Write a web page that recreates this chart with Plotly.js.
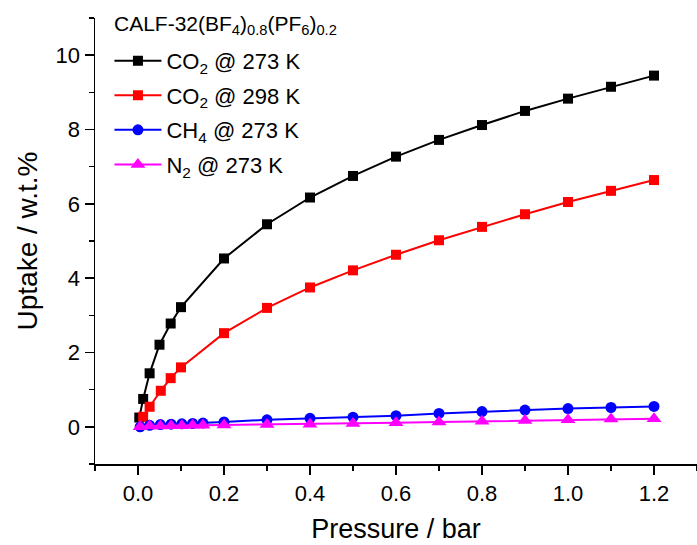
<!DOCTYPE html>
<html>
<head>
<meta charset="utf-8">
<script src="https://cdn.plot.ly/plotly-3.0.1.min.js"></script>
<style>html,body{margin:0;padding:0;background:#fff;}#chart{width:697px;height:545px;}</style>
</head>
<body>
<div id="chart"></div>
<script>
// Data
const co2_273_x = [0.003, 0.012, 0.027, 0.05, 0.076, 0.1, 0.2, 0.3, 0.4, 0.5, 0.6, 0.7, 0.8, 0.9, 1.0, 1.1, 1.2];
const co2_273_y = [0.25, 0.75, 1.44, 2.21, 2.78, 3.22, 4.53, 5.45, 6.17, 6.75, 7.27, 7.72, 8.12, 8.5, 8.83, 9.15, 9.45];
const co2_298_x = [0.012, 0.027, 0.053, 0.076, 0.1, 0.2, 0.3, 0.4, 0.5, 0.6, 0.7, 0.8, 0.9, 1.0, 1.1, 1.2];
const co2_298_y = [0.27, 0.54, 0.97, 1.31, 1.6, 2.52, 3.2, 3.75, 4.21, 4.63, 5.02, 5.38, 5.72, 6.05, 6.35, 6.64];
const gas_x = [0.005, 0.027, 0.052, 0.077, 0.102, 0.127, 0.151, 0.2, 0.3, 0.4, 0.5, 0.6, 0.7, 0.8, 0.9, 1.0, 1.1, 1.2];
const ch4_273_y = [0.0, 0.04, 0.06, 0.07, 0.08, 0.09, 0.1, 0.13, 0.19, 0.23, 0.26, 0.3, 0.36, 0.41, 0.45, 0.49, 0.52, 0.55];
const n2_273_y = [0.0, 0.02, 0.02, 0.03, 0.03, 0.04, 0.04, 0.05, 0.06, 0.07, 0.09, 0.11, 0.13, 0.15, 0.17, 0.19, 0.21, 0.22];
const seriesNames = ['CO<sub>2</sub> @ 273 K', 'CO<sub>2</sub> @ 298 K', 'CH<sub>4</sub> @ 273 K', 'N<sub>2</sub> @ 273 K'];
const legendTitle = 'CALF-32(BF<sub>4</sub>)<sub>0.8</sub>(PF<sub>6</sub>)<sub>0.2</sub>';
const xTickVals = [0, 0.2, 0.4, 0.6, 0.8, 1.0, 1.2];
const xTickText = ['0.0', '0.2', '0.4', '0.6', '0.8', '1.0', '1.2'];
const yTickVals = [0, 2, 4, 6, 8, 10];

const FONT = 'Liberation Sans, Arial, Helvetica, sans-serif';

function tr(x, y, name, color, symbol, size, group) {
  return {
    x: x, y: y, name: name, type: 'scatter', mode: 'lines+markers',
    legendgroup: group,
    line: {color: color, width: 2},
    marker: {color: color, symbol: symbol, size: size, line: {width: 0}}
  };
}

const data = [
  tr(co2_273_x, co2_273_y, seriesNames[0], '#000000', 'square', 10, 'g1'),
  tr(co2_298_x, co2_298_y, seriesNames[1], '#ff0000', 'square', 10, 'g2'),
  tr(gas_x, ch4_273_y, seriesNames[2], '#0000ff', 'circle', 11, 'g3'),
  tr(gas_x, n2_273_y, seriesNames[3], '#ff00ff', 'triangle-up', 13, 'g4')
];

const layout = {
  width: 697, height: 545,
  margin: {l: 95, r: 0, t: 18, b: 81},
  paper_bgcolor: '#ffffff', plot_bgcolor: '#ffffff',
  font: {family: FONT, color: '#000000', size: 22},
  showlegend: true,
  legend: {
    x: 0.024, y: 0.951, xanchor: 'left', yanchor: 'top',
    bgcolor: 'rgba(0,0,0,0)',
    font: {family: FONT, size: 22, color: '#000'},
    itemwidth: 47,
    tracegroupgap: 3
  },
  annotations: [{
    text: legendTitle, xref: 'paper', yref: 'paper',
    x: (112 - 95) / 602, y: (464 - 25) / 446, xanchor: 'left', yanchor: 'middle',
    showarrow: false, font: {family: FONT, size: 21, color: '#000'}
  }],
  xaxis: {
    range: [-0.1, 1.3],
    showline: true, linecolor: '#000', linewidth: 1.5,
    ticks: 'outside', ticklen: 9, tickwidth: 1.5, tickcolor: '#000',
    tickvals: xTickVals, ticktext: xTickText,
    tickfont: {family: FONT, size: 22, color: '#000'},
    minor: {dtick: 0.1, tick0: 0, ticks: 'outside', ticklen: 5, tickwidth: 1.5, tickcolor: '#000'},
    showgrid: false, zeroline: false, mirror: false,
    title: {text: 'Pressure / bar', font: {family: FONT, size: 27, color: '#000'}, standoff: 14}
  },
  yaxis: {
    range: [-1, 11],
    showline: true, linecolor: '#000', linewidth: 1.5,
    ticks: 'outside', ticklen: 9, tickwidth: 1.5, tickcolor: '#000',
    tickvals: yTickVals,
    tickfont: {family: FONT, size: 22, color: '#000'},
    minor: {dtick: 1, tick0: 0, ticks: 'outside', ticklen: 5, tickwidth: 1.5, tickcolor: '#000'},
    showgrid: false, zeroline: false, mirror: false,
    title: {text: 'Uptake / w.t.%', font: {family: FONT, size: 28, color: '#000'}, standoff: 10}
  }
};

Plotly.newPlot('chart', data, layout, {displayModeBar: false, staticPlot: true});
</script>
</body>
</html>
